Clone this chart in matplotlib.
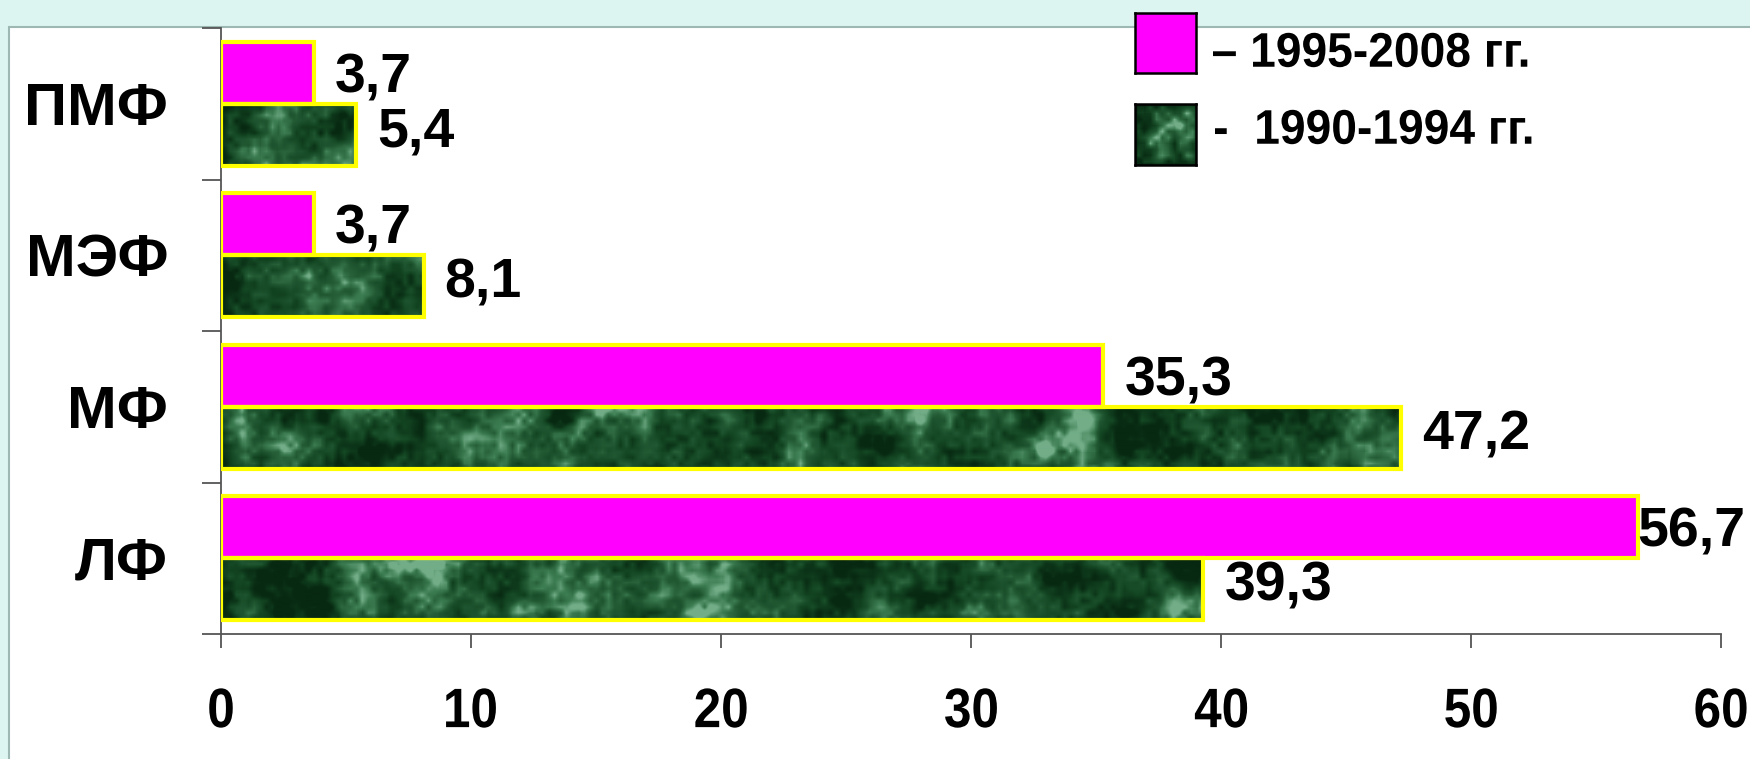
import matplotlib
matplotlib.use('Agg')
import matplotlib.pyplot as plt
import numpy as np
from matplotlib import font_manager
from matplotlib.colors import LinearSegmentedColormap
from matplotlib.font_manager import FontProperties
from matplotlib.patches import Rectangle, PathPatch
from matplotlib.textpath import TextPath
from matplotlib.transforms import Affine2D, IdentityTransform

# Categories listed bottom-to-top as they sit on the y axis
categories = ['ЛФ', 'МФ', 'МЭФ', 'ПМФ']
values_1995_2008 = [56.7, 35.3, 3.7, 3.7]
values_1990_1994 = [39.3, 47.2, 8.1, 5.4]
x_ticks = [0, 10, 20, 30, 40, 50, 60]
legend_labels = ['– 1995-2008 гг.', '-  1990-1994 гг.']

W, H, DPI = 1750, 759, 100

installed = {f.name for f in font_manager.fontManager.ttflist}
WIDE = 'Liberation Sans' if 'Liberation Sans' in installed else 'DejaVu Sans'

PINK = '#FF00FF'
YELLOW = '#FFFF00'
BG = '#DCF5F0'

green_cmap = LinearSegmentedColormap.from_list(
    'marble', ['#072811', '#134522', '#225a34', '#3c7c51', '#72ad88'])


def marble_texture(rows, cols, seed=3):
    """Blocky mottled green texture used to fill the 1990-1994 bars."""
    rng = np.random.default_rng(seed)
    tex = np.zeros((rows, cols))
    for cell, weight in [(40, 0.5), (16, 0.3), (6, 0.2)]:
        r, c = rows // cell + 2, cols // cell + 2
        coarse = rng.random((r, c))
        fine = np.kron(coarse, np.ones((cell, cell)))[:rows, :cols]
        k = np.ones(cell) / cell
        fine = np.apply_along_axis(lambda v: np.convolve(v, k, mode='same'), 1, fine)
        fine = np.apply_along_axis(lambda v: np.convolve(v, k, mode='same'), 0, fine)
        tex += weight * fine
    lo, hi = np.percentile(tex, [3, 99])
    return np.clip((tex - lo) / (hi - lo), 0, 1) ** 1.3


def path_text(fig, x, y, s, size, ha='left', squeeze=1.0):
    """Bold text drawn as a path, optionally condensed; (x, y) in pixels from
    the bottom-left, vertically centred on the glyph ink."""
    fp = FontProperties(family=WIDE, weight='bold')
    px = size * DPI / 72
    path = TextPath((0, 0), s, size=px, prop=fp)
    ext = path.get_extents()
    w = ext.width * squeeze
    x0 = {'left': x, 'center': x - w / 2, 'right': x - w}[ha]
    tr = (Affine2D().translate(-ext.x0, -(ext.y0 + ext.y1) / 2)
          .scale(squeeze, 1).translate(x0, y))
    patch = PathPatch(tr.transform_path(path), facecolor='black', edgecolor='none',
                      transform=IdentityTransform(), zorder=10)
    fig.patches.append(patch)
    return patch


fig = plt.figure(figsize=(W / DPI, H / DPI), dpi=DPI, facecolor=BG)

# white slide panel behind everything
fig.patches.append(Rectangle((9 / W, -0.01), 1.01 - 9 / W, 1.01 - 27 / H, transform=fig.transFigure,
                             facecolor='white', edgecolor='#9db8b2', linewidth=1.5, zorder=-5))

ax = fig.add_axes([221 / W, 1 - 634 / H, 1500 / W, 606 / H])
ax.set_facecolor('none')

y = np.arange(len(categories))
h = 0.41
edge_w = 3.0

pink = ax.barh(y + h / 2, values_1995_2008, height=h, color=PINK,
               edgecolor=YELLOW, linewidth=edge_w, zorder=3)
green = ax.barh(y - h / 2, values_1990_1994, height=h, color='#1a4d2a',
                edgecolor='none', zorder=2)

tex = marble_texture(606, 1500)
for bar in green:
    im = ax.imshow(tex, cmap=green_cmap, extent=[0, 60, -0.5, 3.5], aspect='auto',
                   interpolation='bilinear', zorder=2.5)
    im.set_clip_path(bar)
ax.barh(y - h / 2, values_1990_1994, height=h, fill=False,
        edgecolor=YELLOW, linewidth=edge_w, zorder=3)

ax.set_xlim(0, 60)
ax.set_ylim(-0.5, 3.5)

for side in ['top', 'right']:
    ax.spines[side].set_visible(False)
for side in ['left', 'bottom']:
    ax.spines[side].set_color('#555555')
    ax.spines[side].set_linewidth(1.3)

# x tick marks from the axis; their labels are drawn condensed below
ax.set_xticks(x_ticks)
ax.set_xticklabels([])
ax.tick_params(axis='x', length=10, width=1.3, color='#555555')

ax.set_yticks(np.arange(-0.5, len(categories), 1.0))
ax.set_yticklabels([])
ax.tick_params(axis='y', which='major', length=13.7, width=1.3, color='#555555')
ax.set_yticks(y, minor=True)
ax.set_yticklabels(categories, minor=True, fontsize=43, fontweight='bold', family=WIDE)
ax.tick_params(axis='y', which='minor', length=0, pad=38)

fig.canvas.draw()
for t in x_ticks:
    px, py = ax.transData.transform((t, -0.5))
    path_text(fig, px, py - 74, str(t), 40, ha='center', squeeze=0.89)

# value labels to the right of each bar
labels = []
for bars, vals, dy in [(pink, values_1995_2008, -4), (green, values_1990_1994, 2)]:
    for bar, v in zip(bars, vals):
        t = ax.annotate(f'{v:.1f}'.replace('.', ','),
                        xy=(v, bar.get_y() + bar.get_height() / 2),
                        xytext=(15, dy), textcoords='offset points',
                        ha='left', va='center', fontsize=40, fontweight='bold',
                        family=WIDE, annotation_clip=False, zorder=5)
        labels.append(t)

# keep labels inside the slide: pull back any that run past the right edge
fig.canvas.draw()
renderer = fig.canvas.get_renderer()
for t in labels:
    ext = t.get_window_extent(renderer)
    over = ext.x1 - (W - 5)
    if over > 0:
        ox, oy = t.xyann
        t.xyann = (ox - over * 72 / DPI, oy)

# legend swatches and text
pink_box = fig.add_axes([1135 / W, 1 - 73 / H, 61 / W, 60 / H])
pink_box.set_facecolor(PINK)
green_box = fig.add_axes([1135 / W, 1 - 165 / H, 61 / W, 61 / H])
green_box.imshow(marble_texture(61, 61, seed=11), cmap=green_cmap, aspect='auto',
                 interpolation='bilinear')
for box in (pink_box, green_box):
    box.set_xticks([])
    box.set_yticks([])
    for s in box.spines.values():
        s.set_color('black')
        s.set_linewidth(1.8)

path_text(fig, 1213, H - 50, legend_labels[0], 35, squeeze=0.95)
path_text(fig, 1215, H - 127, legend_labels[1], 35, squeeze=0.95)

fig.savefig('out.png', dpi=DPI, facecolor=BG)
